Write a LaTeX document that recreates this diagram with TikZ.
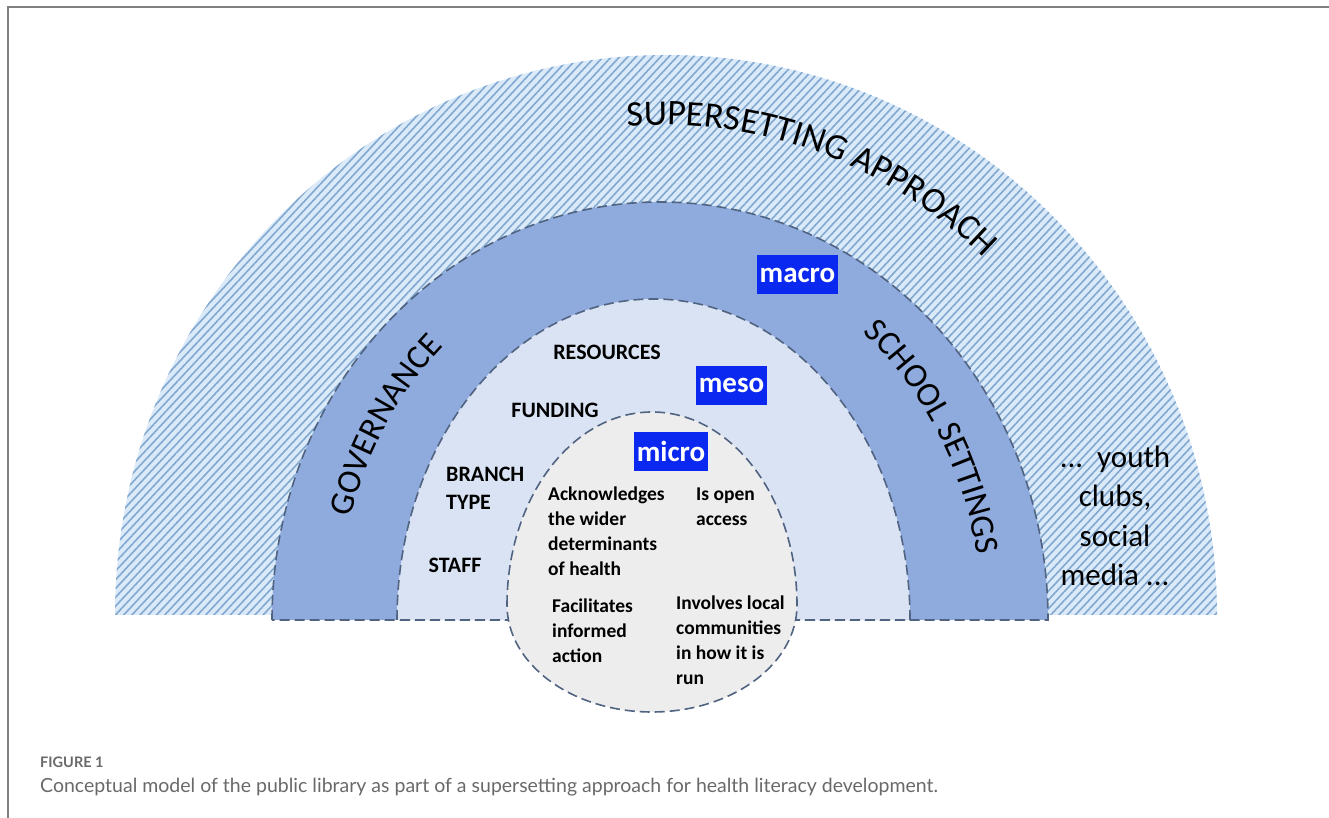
\documentclass[tikz,border=0pt]{standalone}
\usepackage{fontspec}
\setmainfont{Carlito}
\newfontfamily\capfont{Lato}
\usetikzlibrary{patterns.meta,decorations.text}

\definecolor{hatchbg}{RGB}{218,234,249}
\definecolor{hatchline}{RGB}{130,168,208}
\definecolor{macrofill}{RGB}{143,170,220}
\definecolor{mesofill}{RGB}{218,227,243}
\definecolor{microfill}{RGB}{237,237,237}
\definecolor{ringline}{RGB}{80,100,130}
\definecolor{tagblue}{RGB}{10,40,240}
\definecolor{framegray}{RGB}{128,128,128}
\definecolor{captiongray}{RGB}{105,105,105}

\tikzset{
  ring/.style={draw=ringline, line width=1.6pt, dash pattern=on 10pt off 5pt},
  tag/.style={fill=tagblue, text=white, font=\bfseries\fontsize{29}{30}\selectfont,
    inner xsep=3pt, inner ysep=0pt, minimum height=39pt},
  lbl/.style={font=\bfseries\fontsize{22}{28}\selectfont, inner sep=0pt},
  note/.style={font=\bfseries\fontsize{19.5}{25}\selectfont, align=left,
    anchor=west, inner sep=0pt},
}

\begin{document}
\begin{tikzpicture}[x=1pt, y=1pt]
\useasboundingbox (0,0) rectangle (1329,818);

% page frame
\draw[framegray, line width=2pt] (8,0) -- (8,811) -- (1329,811);

% outer hatched ring: the supersetting
\fill[hatchbg, postaction={pattern={Lines[angle=47,distance=6pt,line width=1.6pt]},
  pattern color=hatchline}]
  (115,203) arc[start angle=180, end angle=0, x radius=551, y radius=560] -- cycle;

% macro ring
\path[fill=macrofill, ring]
  (272,198) arc[start angle=180, end angle=0, x radius=388, y radius=418] -- cycle;

% meso ring
\path[fill=mesofill, ring]
  (397,198) arc[start angle=180, end angle=0, x radius=256.5, y radius=321] -- cycle;

% micro core: egg made of two half ellipses
\path[fill=microfill, ring]
  (507,213) arc[start angle=180, end angle=0, x radius=145, y radius=193]
            arc[start angle=0, end angle=-180, x radius=145, y radius=107] -- cycle;

% curved ring titles
\coordinate (oc) at (663,200);
\coordinate (mc) at (660,198);
\path[decoration={text along path, text align=center,
  text={|\fontsize{36}{36}\selectfont|SUPERSETTING APPROACH}}, decorate]
  ([shift={(103.5:470 and 493)}]oc) arc[start angle=103.5, end angle=38, x radius=470, y radius=493];
\path[decoration={text along path, text align=center,
  text={|\fontsize{34}{34}\selectfont|GOVERNANCE}}, decorate]
  ([shift={(177.5:322 and 370)}]mc) arc[start angle=177.5, end angle=117.5, x radius=322, y radius=370];
\path[decoration={text along path, text align=center,
  text={|\fontsize{34}{34}\selectfont|SCHOOL SETTINGS}}, decorate]
  ([shift={(62:322 and 370)}]mc) arc[start angle=62, end angle=0, x radius=322, y radius=370];

% level tags
\node[tag] (macro) at (797.5,543) {macro};
\node[tag] (meso) at (731.5,432.5) {meso};
\node[tag] (micro) at (671,366.5) {micro};

% meso labels
\node[lbl] (resources) at (607,466) {RESOURCES};
\node[lbl] (funding) at (555,408) {FUNDING};
\node[lbl, align=left, anchor=west] (branch) at (446,330) {BRANCH\\TYPE};
\node[lbl] (staff) at (455,253) {STAFF};

% micro features
\node[note] (ack) at (548,286.5) {Acknowledges\\the wider\\determinants\\of health};
\node[note] (open) at (696,311.5) {Is open\\access};
\node[note] (facil) at (552,187.5) {Facilitates\\informed\\action};
\node[note] (involve) at (676,177.5) {Involves local\\communities\\in how it is\\run};

% other settings
\node[font=\fontsize{31}{39.5}\selectfont, align=center] (youth) at (1115,302)
  {...\ \ youth\\clubs,\\social\\media ...};

% caption
\node[anchor=west, inner sep=0pt, text=captiongray,
  font=\capfont\bfseries\fontsize{14.5}{18}\selectfont] (figno) at (40,56) {FIGURE 1};
\node[anchor=west, inner sep=0pt, text=captiongray,
  font=\capfont\fontsize{19.5}{22}\selectfont] (caption) at (40,31)
  {Conceptual model of the public library as part of a supersetting approach for health literacy development.};
\end{tikzpicture}
\end{document}
